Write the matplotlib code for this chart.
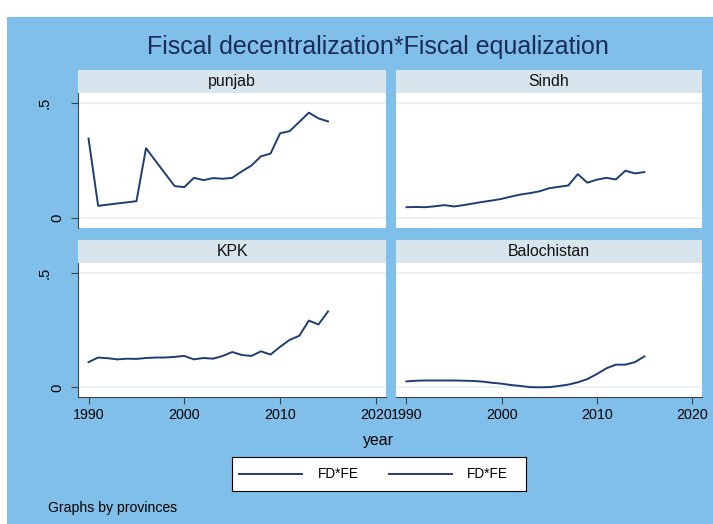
import numpy as np
import matplotlib
matplotlib.use("Agg")
import matplotlib.pyplot as plt
from matplotlib import font_manager
from matplotlib.patches import Rectangle
from matplotlib.lines import Line2D
from matplotlib.transforms import ScaledTranslation

years = np.arange(1990, 2016)
punjab = [0.345, 0.054, 0.059, 0.064, 0.069, 0.074, 0.303, 0.248, 0.193, 0.139,
          0.135, 0.175, 0.165, 0.174, 0.171, 0.175, 0.203, 0.228, 0.268, 0.280,
          0.368, 0.377, 0.417, 0.457, 0.432, 0.419]
sindh = [0.048, 0.049, 0.048, 0.052, 0.057, 0.051, 0.057, 0.064, 0.071, 0.077,
         0.084, 0.094, 0.103, 0.109, 0.117, 0.130, 0.136, 0.142, 0.191, 0.154,
         0.167, 0.175, 0.168, 0.206, 0.194, 0.200]
kpk = [0.110, 0.130, 0.127, 0.122, 0.125, 0.124, 0.128, 0.130, 0.130, 0.133,
       0.137, 0.122, 0.128, 0.125, 0.137, 0.154, 0.141, 0.137, 0.157, 0.143,
       0.177, 0.207, 0.225, 0.291, 0.274, 0.331]
balochistan = [0.026, 0.029, 0.030, 0.030, 0.030, 0.030, 0.029, 0.028, 0.025, 0.020,
               0.016, 0.010, 0.006, 0.001, 0.000, 0.001, 0.006, 0.012, 0.022, 0.036,
               0.058, 0.083, 0.099, 0.099, 0.110, 0.135]
provinces = ["punjab", "Sindh", "KPK", "Balochistan"]
series = [punjab, sindh, kpk, balochistan]
xticks = [1990, 2000, 2010, 2020]
yticks = [0, 0.5]
yticklabels = ["0", ".5"]

W, H = 713, 524
BG = "#80bfe9"
STRIP = "#d9e5ec"
LINE = "#1f3d73"
GRID = "#e6eff2"

names = {f.name for f in font_manager.fontManager.ttflist}
if "Liberation Sans Narrow" in names:
    FONT, k = "Liberation Sans Narrow", 1.0
else:
    FONT, k = "Liberation Sans", 0.82
plt.rcParams["font.family"] = FONT


def box(x0, y0, x1, y1):
    return [x0 / W, 1 - y1 / H, (x1 - x0) / W, (y1 - y0) / H]


fig = plt.figure(figsize=(W / 100, H / 100), dpi=100)
fig.patch.set_facecolor("white")
fig.add_artist(Rectangle((7 / W, 0), 1 - 7 / W, 1 - 17 / H, transform=fig.transFigure,
                         facecolor=BG, edgecolor="none", zorder=0))

fig.text(378 / W, 1 - 47 / H, "Fiscal decentralization*Fiscal equalization",
         ha="center", va="center", fontsize=22 * k, color="#1c2b57")

cols = [(78, 386), (396, 702)]
rows = [(70, 93, 228), (240, 263, 397)]

for i, (name, vals) in enumerate(zip(provinces, series)):
    r, c = divmod(i, 2)
    x0, x1 = cols[c]
    s0, p0, p1 = rows[r]
    sax = fig.add_axes(box(x0, s0, x1, p0))
    sax.set_facecolor(STRIP)
    sax.set_xticks([])
    sax.set_yticks([])
    for sp in sax.spines.values():
        sp.set_visible(False)
    sax.text(0.5, 0.5, name, ha="center", va="center", fontsize=14 * k,
             transform=sax.transAxes, color="#111111")

    ax = fig.add_axes(box(x0, p0, x1, p1))
    ax.set_facecolor("white")
    ax.plot(years, vals, color=LINE, lw=1.4)
    ax.set_xlim(1988.9, 2021.05)
    ax.set_ylim(-0.042, 0.542)
    for yv in yticks:
        ax.axhline(yv, color=GRID, lw=1.2, zorder=0)
    for sp in ["top", "right"]:
        ax.spines[sp].set_visible(False)
    ax.spines["left"].set_visible(c == 0)
    ax.spines["bottom"].set_visible(r == 1)
    ax.spines["left"].set_color("#444444")
    ax.spines["bottom"].set_color("#444444")
    ax.set_yticks(yticks)
    ax.set_xticks(xticks)
    if c == 0:
        ax.set_yticklabels(yticklabels, rotation=90, va="center", fontsize=13 * k)
        ax.tick_params(axis="y", length=5, color="#444444", pad=5)
        # Stata sets ".5" further out than "0"
        lab = ax.get_yticklabels()[1]
        lab.set_transform(lab.get_transform()
                          + ScaledTranslation(-0.12, 0, fig.dpi_scale_trans))
    else:
        ax.tick_params(axis="y", left=False, labelleft=False)
    if r == 1:
        ax.set_xticklabels([str(t) for t in xticks], fontsize=12.5 * k)
        ax.tick_params(axis="x", length=5, color="#444444", pad=3)
    else:
        ax.tick_params(axis="x", bottom=False, labelbottom=False)

fig.text(378 / W, 1 - 440 / H, "year", ha="center", va="center", fontsize=14 * k)

# legend box drawn by hand to sit where Stata puts it
lax = fig.add_axes(box(232, 457, 526, 491))
lax.set_xlim(232, 526)
lax.set_ylim(0, 1)
lax.set_facecolor("white")
lax.set_xticks([])
lax.set_yticks([])
for sp in lax.spines.values():
    sp.set_color("black")
    sp.set_linewidth(0.8)
for lx0, lx1, tx in [(239, 302, 318), (389, 452, 467)]:
    lax.add_line(Line2D([lx0, lx1], [0.5, 0.5], color=LINE, lw=1.4))
    lax.text(tx, 0.5, "FD*FE", va="center", ha="left", fontsize=12 * k)

fig.text(48 / W, 1 - 508 / H, "Graphs by provinces", ha="left", va="center",
         fontsize=12.3 * k)

fig.savefig("out.png", dpi=100, facecolor=fig.get_facecolor())
